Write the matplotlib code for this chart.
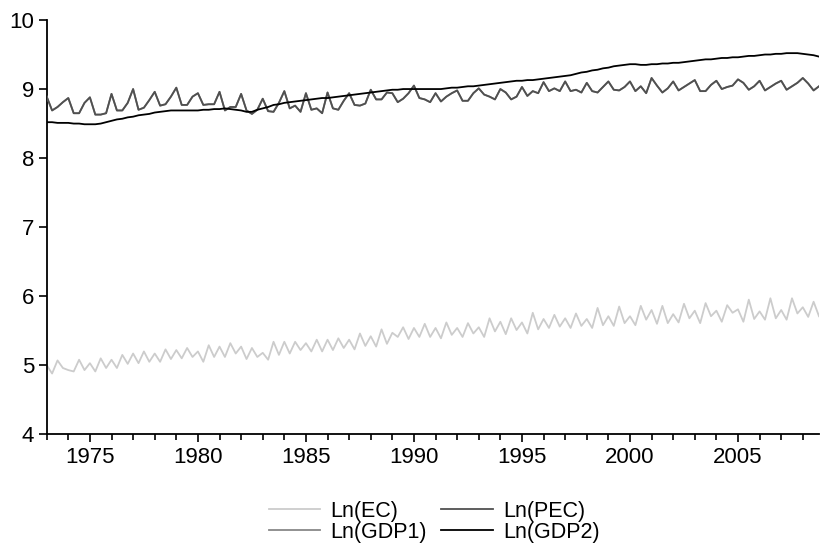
import matplotlib
matplotlib.use('Agg')
import matplotlib.pyplot as plt
import numpy as np
from matplotlib.ticker import MultipleLocator

plt.rcParams['font.family'] = ['Liberation Sans', 'DejaVu Sans']

# Quarterly data, 1973Q1 .. 2008Q4
start_year = 1973

ln_ec = [
    5.00, 4.88, 5.07, 4.96, 4.93, 4.91, 5.08, 4.93, 5.03, 4.91, 5.10, 4.96,
    5.08, 4.96, 5.15, 5.02, 5.17, 5.03, 5.20, 5.05, 5.17, 5.05, 5.23, 5.09,
    5.22, 5.10, 5.25, 5.12, 5.20, 5.05, 5.29, 5.12, 5.27, 5.12, 5.32, 5.17,
    5.27, 5.09, 5.25, 5.12, 5.18, 5.08, 5.34, 5.15, 5.34, 5.17, 5.34, 5.22,
    5.32, 5.20, 5.37, 5.20, 5.37, 5.22, 5.39, 5.25, 5.37, 5.23, 5.46, 5.28,
    5.42, 5.27, 5.52, 5.31, 5.47, 5.41, 5.55, 5.38, 5.54, 5.41, 5.60, 5.41,
    5.54, 5.39, 5.62, 5.44, 5.54, 5.41, 5.61, 5.46, 5.55, 5.41, 5.68, 5.49,
    5.63, 5.45, 5.68, 5.51, 5.62, 5.46, 5.76, 5.52, 5.67, 5.54, 5.73, 5.56,
    5.68, 5.54, 5.75, 5.57, 5.67, 5.54, 5.83, 5.58, 5.71, 5.57, 5.85, 5.61,
    5.71, 5.58, 5.86, 5.66, 5.80, 5.60, 5.86, 5.61, 5.74, 5.62, 5.89, 5.68,
    5.79, 5.61, 5.90, 5.71, 5.79, 5.63, 5.87, 5.76, 5.81, 5.63, 5.95, 5.67,
    5.78, 5.66, 5.97, 5.68, 5.80, 5.66, 5.97, 5.75, 5.84, 5.70, 5.92, 5.71,
]

ln_pec = [
    8.89, 8.69, 8.74, 8.81, 8.87, 8.65, 8.65, 8.80, 8.88, 8.63, 8.63, 8.65,
    8.93, 8.69, 8.69, 8.80, 9.00, 8.70, 8.73, 8.84, 8.96, 8.76, 8.78, 8.89,
    9.02, 8.77, 8.77, 8.89, 8.94, 8.77, 8.78, 8.78, 8.96, 8.69, 8.74, 8.74,
    8.93, 8.69, 8.64, 8.70, 8.86, 8.68, 8.67, 8.80, 8.97, 8.72, 8.76, 8.67,
    8.94, 8.70, 8.72, 8.65, 8.95, 8.72, 8.70, 8.83, 8.94, 8.77, 8.76, 8.79,
    8.99, 8.85, 8.85, 8.95, 8.94, 8.81, 8.86, 8.94, 9.05, 8.87, 8.85, 8.81,
    8.94, 8.82, 8.89, 8.94, 8.98, 8.83, 8.83, 8.94, 9.01, 8.92, 8.89, 8.85,
    9.00, 8.95, 8.85, 8.89, 9.03, 8.90, 8.97, 8.94, 9.10, 8.97, 9.01, 8.97,
    9.11, 8.97, 8.99, 8.95, 9.09, 8.97, 8.95, 9.03, 9.11, 8.99, 8.98, 9.03,
    9.11, 8.97, 9.04, 8.94, 9.16, 9.05, 8.95, 9.01, 9.11, 8.98, 9.03, 9.08,
    9.13, 8.97, 8.97, 9.06, 9.12, 9.00, 9.03, 9.05, 9.14, 9.09, 8.99, 9.04,
    9.12, 8.98, 9.03, 9.08, 9.12, 8.99, 9.04, 9.09, 9.16, 9.08, 8.98, 9.04,
]

# GDP1 coincides with the seasonal line in the picture
ln_gdp1 = [
    8.89, 8.69, 8.74, 8.81, 8.87, 8.65, 8.65, 8.80, 8.88, 8.63, 8.63, 8.65,
    8.93, 8.69, 8.69, 8.80, 9.00, 8.70, 8.73, 8.84, 8.96, 8.76, 8.78, 8.89,
    9.02, 8.77, 8.77, 8.89, 8.94, 8.77, 8.78, 8.78, 8.96, 8.69, 8.74, 8.74,
    8.93, 8.69, 8.64, 8.70, 8.86, 8.68, 8.67, 8.80, 8.97, 8.72, 8.76, 8.67,
    8.94, 8.70, 8.72, 8.65, 8.95, 8.72, 8.70, 8.83, 8.94, 8.77, 8.76, 8.79,
    8.99, 8.85, 8.85, 8.95, 8.94, 8.81, 8.86, 8.94, 9.05, 8.87, 8.85, 8.81,
    8.94, 8.82, 8.89, 8.94, 8.98, 8.83, 8.83, 8.94, 9.01, 8.92, 8.89, 8.85,
    9.00, 8.95, 8.85, 8.89, 9.03, 8.90, 8.97, 8.94, 9.10, 8.97, 9.01, 8.97,
    9.11, 8.97, 8.99, 8.95, 9.09, 8.97, 8.95, 9.03, 9.11, 8.99, 8.98, 9.03,
    9.11, 8.97, 9.04, 8.94, 9.16, 9.05, 8.95, 9.01, 9.11, 8.98, 9.03, 9.08,
    9.13, 8.97, 8.97, 9.06, 9.12, 9.00, 9.03, 9.05, 9.14, 9.09, 8.99, 9.04,
    9.12, 8.98, 9.03, 9.08, 9.12, 8.99, 9.04, 9.09, 9.16, 9.08, 8.98, 9.04,
]

ln_gdp2 = [
    8.52, 8.52, 8.51, 8.51, 8.51, 8.50, 8.50, 8.49, 8.49, 8.49, 8.50, 8.52,
    8.54, 8.56, 8.57, 8.59, 8.60, 8.62, 8.63, 8.64, 8.66, 8.67, 8.68, 8.69,
    8.69, 8.69, 8.69, 8.69, 8.69, 8.70, 8.70, 8.71, 8.71, 8.72, 8.71, 8.70,
    8.69, 8.67, 8.67, 8.70, 8.72, 8.74, 8.77, 8.78, 8.80, 8.81, 8.82, 8.83,
    8.84, 8.85, 8.86, 8.87, 8.87, 8.88, 8.89, 8.90, 8.91, 8.92, 8.93, 8.94,
    8.95, 8.96, 8.97, 8.98, 8.99, 8.99, 9.00, 9.00, 9.00, 9.00, 9.00, 9.00,
    9.00, 9.00, 9.01, 9.02, 9.02, 9.03, 9.04, 9.04, 9.05, 9.06, 9.07, 9.08,
    9.09, 9.10, 9.11, 9.12, 9.12, 9.13, 9.13, 9.14, 9.15, 9.16, 9.17, 9.18,
    9.19, 9.20, 9.22, 9.24, 9.25, 9.27, 9.28, 9.30, 9.31, 9.33, 9.34, 9.35,
    9.36, 9.36, 9.35, 9.35, 9.36, 9.36, 9.37, 9.37, 9.38, 9.38, 9.39, 9.40,
    9.41, 9.42, 9.43, 9.43, 9.44, 9.45, 9.45, 9.46, 9.46, 9.47, 9.48, 9.48,
    9.49, 9.50, 9.50, 9.51, 9.51, 9.52, 9.52, 9.52, 9.51, 9.50, 9.49, 9.47,
]

labels = ['Ln(EC)', 'Ln(PEC)', 'Ln(GDP1)', 'Ln(GDP2)']
year_ticks = [1975, 1980, 1985, 1990, 1995, 2000, 2005]
y_ticks = [4, 5, 6, 7, 8, 9, 10]

x = start_year + np.arange(len(ln_ec)) / 4.0

W, H = 822, 545
fig = plt.figure(figsize=(W / 100, H / 100), dpi=100)
left, right, top, bottom = 46.7, 819.0, 20.0, 434.3
ax = fig.add_axes([left / W, 1 - bottom / H, (right - left) / W, (bottom - top) / H])

lw = 1.3
l_ec, = ax.plot(x, ln_ec, color='#cccccc', lw=lw, label=labels[0], zorder=2)
l_gdp1, = ax.plot(x, ln_gdp1, color='#888888', lw=lw, label=labels[2], zorder=3)
l_pec, = ax.plot(x, ln_pec, color='#505050', lw=lw, label=labels[1], zorder=4)
l_gdp2, = ax.plot(x, ln_gdp2, color='#000000', lw=lw, label=labels[3], zorder=5)

ax.set_xlim(x[0], x[-1])
ax.set_ylim(4, 10)
ax.set_xticks(year_ticks)
ax.xaxis.set_minor_locator(MultipleLocator(1))
ax.set_yticks(y_ticks)
ax.tick_params(axis='both', which='major', direction='out', length=6, width=1.2,
               labelsize=16, colors='black')
ax.tick_params(axis='x', which='major', pad=3)
ax.tick_params(axis='y', which='major', pad=3)
ax.tick_params(axis='x', which='minor', direction='out', length=4, width=1.2)
for s in ['top', 'right']:
    ax.spines[s].set_visible(False)
for s in ['left', 'bottom']:
    ax.spines[s].set_linewidth(1.3)

fig.legend(handles=[l_ec, l_gdp1, l_pec, l_gdp2], ncol=2, loc='center',
           bbox_to_anchor=(434 / W, 1 - 521.7 / H), frameon=False, fontsize=15.5,
           handlelength=2.4, handletextpad=0.45, columnspacing=0.7,
           labelspacing=0.0, borderpad=0)

fig.savefig('out.png', dpi=100)
